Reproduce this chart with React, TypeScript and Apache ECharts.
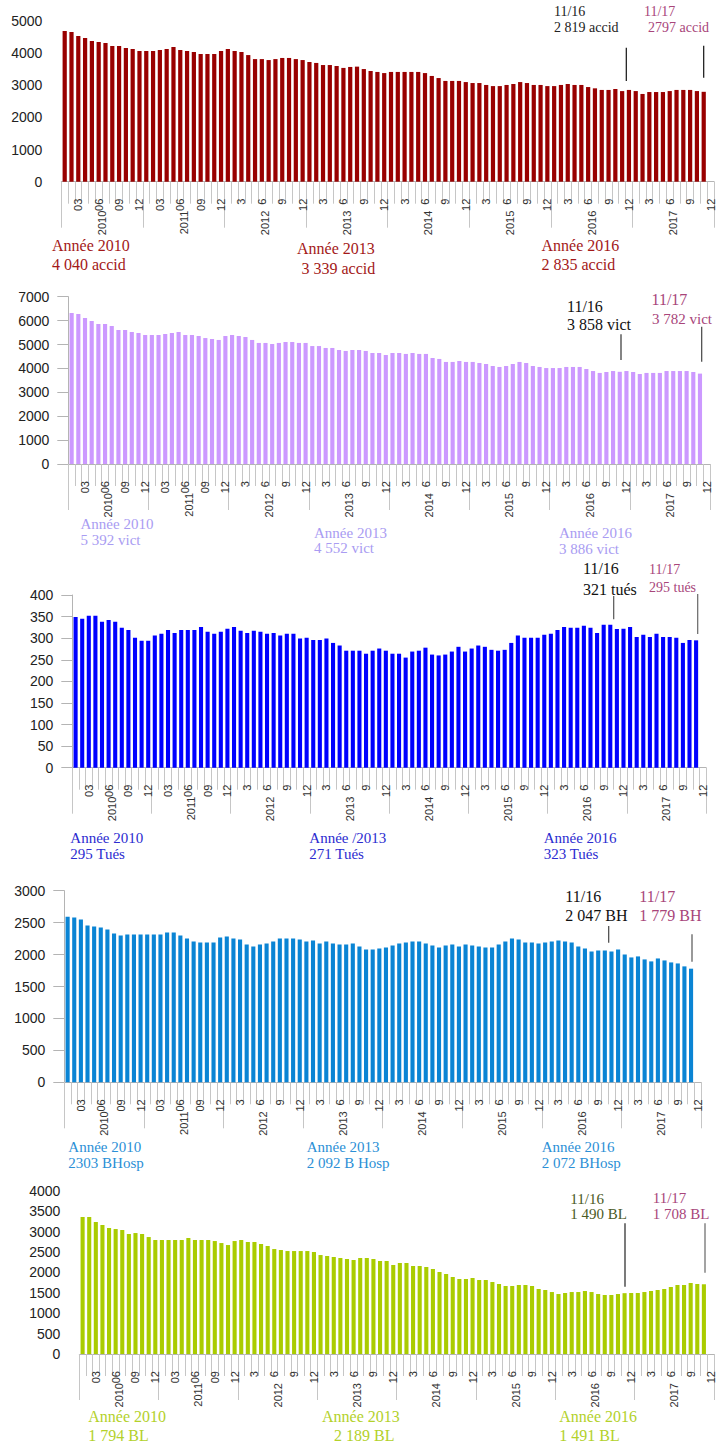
import React, { useEffect, useRef } from 'react';
import * as echarts from 'echarts';

const years = ['2010', '2011', '2012', '2013', '2014', '2015', '2016', '2017'];
const monthNumbers = [1, 2, 3, 4, 5, 6, 7, 8, 9, 10, 11, 12];

const accid = [
  4690, 4660, 4530, 4470, 4380, 4350, 4315, 4220, 4220, 4160, 4130, 4065,
  4065, 4065, 4095, 4130, 4190, 4095, 4065, 4035, 3975, 3975, 3975, 4065,
  4130, 4065, 4035, 3940, 3815, 3815, 3785, 3815, 3850, 3850, 3815, 3785,
  3725, 3695, 3630, 3630, 3600, 3540, 3570, 3580, 3505, 3445, 3415, 3380,
  3415, 3415, 3415, 3415, 3415, 3380, 3290, 3225, 3135, 3135, 3135, 3100,
  3070, 3070, 3010, 2975, 2975, 3010, 3040, 3100, 3070, 3010, 3010, 2975,
  2975, 3010, 3040, 3010, 3010, 2945, 2905, 2855, 2855, 2885, 2819, 2855,
  2820, 2730, 2790, 2790, 2790, 2820, 2855, 2855, 2855, 2820, 2797,
];

const vict = [
  6320, 6275, 6110, 5985, 5860, 5860, 5775, 5605, 5605, 5525, 5480, 5395,
  5395, 5395, 5440, 5480, 5525, 5395, 5395, 5355, 5270, 5230, 5190, 5355,
  5395, 5355, 5315, 5190, 5065, 5065, 5020, 5065, 5105, 5105, 5065, 5065,
  4935, 4935, 4855, 4855, 4770, 4730, 4770, 4770, 4730, 4645, 4645, 4560,
  4645, 4645, 4605, 4645, 4605, 4605, 4435, 4395, 4270, 4270, 4310, 4270,
  4270, 4225, 4185, 4100, 4060, 4100, 4185, 4270, 4225, 4100, 4060, 4015,
  4015, 4015, 4060, 4060, 4060, 3975, 3890, 3810, 3850, 3890, 3858, 3890,
  3850, 3765, 3810, 3810, 3810, 3890, 3890, 3890, 3890, 3850, 3782,
];

const tues = [
  349, 345, 352, 352, 338, 342, 338, 324, 319, 301, 294, 294,
  306, 310, 319, 312, 319, 319, 319, 326, 315, 310, 315, 322,
  326, 317, 312, 317, 315, 310, 312, 306, 310, 310, 299, 301,
  296, 296, 299, 289, 283, 271, 271, 271, 264, 271, 276, 271,
  264, 264, 255, 269, 271, 278, 262, 260, 262, 269, 280, 269,
  276, 283, 280, 273, 271, 273, 289, 306, 301, 301, 301, 308,
  310, 319, 326, 324, 324, 329, 324, 312, 331, 331, 321, 322,
  326, 303, 308, 303, 310, 303, 303, 301, 289, 296, 295,
];

const bhosp = [
  2594, 2579, 2548, 2454, 2439, 2423, 2392, 2329, 2298, 2314, 2314, 2314,
  2314, 2314, 2314, 2345, 2345, 2298, 2251, 2205, 2189, 2189, 2189, 2267,
  2283, 2251, 2236, 2158, 2127, 2158, 2173, 2205, 2251, 2251, 2251, 2236,
  2205, 2220, 2173, 2205, 2173, 2158, 2158, 2173, 2127, 2080, 2080, 2095,
  2111, 2142, 2173, 2189, 2205, 2205, 2173, 2142, 2111, 2142, 2158, 2127,
  2158, 2142, 2127, 2111, 2111, 2158, 2205, 2251, 2236, 2189, 2189, 2173,
  2189, 2205, 2220, 2205, 2189, 2127, 2095, 2049, 2064, 2064, 2047, 2080,
  2002, 1955, 1971, 1924, 1893, 1939, 1908, 1877, 1861, 1815, 1779,
];

const bl = [
  3355, 3355, 3233, 3159, 3086, 3061, 3037, 2939, 2963, 2939, 2865, 2792,
  2792, 2792, 2792, 2792, 2841, 2792, 2792, 2792, 2767, 2718, 2669, 2767,
  2792, 2743, 2743, 2694, 2645, 2571, 2547, 2522, 2522, 2522, 2522, 2498,
  2424, 2400, 2376, 2351, 2327, 2302, 2351, 2351, 2327, 2278, 2278, 2180,
  2229, 2229, 2155, 2155, 2131, 2082, 2008, 1959, 1886, 1837, 1837, 1861,
  1812, 1812, 1763, 1714, 1665, 1665, 1690, 1690, 1665, 1592, 1567, 1518,
  1469, 1494, 1518, 1518, 1543, 1518, 1469, 1445, 1445, 1469, 1490, 1494,
  1494, 1518, 1543, 1567, 1592, 1641, 1690, 1690, 1739, 1714, 1708,
];

const monthCats: string[] = [];
const monthLabels: string[] = [];
years.forEach((y) => {
  monthNumbers.forEach((m) => {
    monthCats.push(y + '-' + m);
    let lab = '';
    if (m % 3 === 0) lab = Number(y) < 2012 ? String(m).padStart(2, '0') : String(m);
    monthLabels.push(lab);
  });
});

const SANS = '"Liberation Sans", Arial, sans-serif';
const SERIF = '"Liberation Serif", "Times New Roman", serif';
const MAUVE = '#a8457a';

const panels = [
  { data: accid, color: '#990000', left: 61.3, top: 21, width: 654.7, height: 160.7, max: 5000, interval: 1000, yLine: false },
  { data: vict, color: '#cc99ff', left: 68.3, top: 296.7, width: 641.7, height: 167.3, max: 7000, interval: 1000, yLine: true },
  { data: tues, color: '#0000ff', left: 72.3, top: 595, width: 633.7, height: 172.7, max: 400, interval: 50, yLine: true },
  { data: bhosp, color: '#0a84d4', left: 64.3, top: 890.7, width: 636.7, height: 191.6, max: 3000, interval: 500, yLine: true },
  { data: bl, color: '#aacc00', left: 79.3, top: 1190.7, width: 635.4, height: 163.3, max: 4000, interval: 500, yLine: false },
];

function txt(x: number, y: number, text: string, fill: string, size: number) {
  return {
    type: 'text',
    x,
    y,
    silent: true,
    style: {
      text,
      fill,
      font: `${size}px ${SERIF}`,
      textVerticalAlign: 'middle',
      verticalAlign: 'middle',
      textAlign: 'left',
      align: 'left',
    },
  };
}

function vline(x: number, y1: number, y2: number, stroke: string) {
  return {
    type: 'line',
    silent: true,
    shape: { x1: x, y1, x2: x, y2 },
    style: { stroke, lineWidth: 1.2 },
  };
}

export default function App() {
  const ref = useRef<HTMLDivElement>(null);

  useEffect(() => {
    if (!ref.current) return;
    const chart = echarts.init(ref.current, undefined, { renderer: 'svg' });

    const grid: any[] = [];
    const xAxis: any[] = [];
    const yAxis: any[] = [];
    const series: any[] = [];

    panels.forEach((p, i) => {
      grid.push({ left: p.left, top: p.top, width: p.width, height: p.height, containLabel: false });
      xAxis.push({
        type: 'category',
        gridIndex: i,
        data: monthCats,
        position: 'bottom',
        boundaryGap: true,
        axisLine: { show: true, lineStyle: { color: '#b4b4b4', width: 1 } },
        axisTick: { show: true, interval: 0, length: 22, lineStyle: { color: '#c6c6c6' } },
        axisLabel: {
          interval: 0,
          rotate: 90,
          margin: 17,
          fontSize: 11,
          color: '#333',
          fontFamily: SANS,
          formatter: (_v: string, idx: number) => monthLabels[idx],
        },
        splitLine: { show: false },
      });
      xAxis.push({
        type: 'category',
        gridIndex: i,
        data: years,
        position: 'bottom',
        boundaryGap: true,
        axisLine: { show: false },
        axisTick: { show: true, interval: 0, length: 46, lineStyle: { color: '#c6c6c6' } },
        axisLabel: { interval: 0, rotate: 90, margin: 29, fontSize: 11, color: '#333', fontFamily: SANS },
        splitLine: { show: false },
      });
      yAxis.push({
        type: 'value',
        gridIndex: i,
        min: 0,
        max: p.max,
        interval: p.interval,
        axisLine: { show: p.yLine, lineStyle: { color: '#b4b4b4' } },
        axisTick: { show: p.yLine, length: 11, lineStyle: { color: '#b4b4b4' } },
        axisLabel: {
          margin: 19,
          fontSize: 14,
          color: '#222',
          fontFamily: SANS,
          formatter: (v: number) => String(v),
        },
        splitLine: { show: false },
      });
      series.push({
        type: 'bar',
        xAxisIndex: 2 * i,
        yAxisIndex: i,
        data: p.data,
        barWidth: '62%',
        itemStyle: { color: p.color },
      });
    });

    const red = '#a31818';
    const lav = '#a99cf2';
    const blue = '#2b2bd0';
    const sky = '#2b8fd6';
    const lime = '#b3d12a';
    const olive = '#4b5a25';

    const graphic: any[] = [
      // chart 1
      txt(52, 245.5, 'Année 2010', red, 16),
      txt(52, 264.5, '4 040 accid', red, 16),
      txt(297, 248.5, 'Année 2013', red, 16),
      txt(301.5, 268, '3 339 accid', red, 16),
      txt(541.5, 245.5, 'Année 2016', red, 16),
      txt(541.5, 264.5, '2 835 accid', red, 16),
      txt(554, 11, '11/16', '#222', 14),
      txt(554, 27, '2 819 accid', '#222', 14),
      txt(644, 11, '11/17', MAUVE, 14),
      txt(648, 27, '2797 accid', MAUVE, 14),
      vline(626.3, 47.7, 81, '#111'),
      vline(703.7, 45.7, 77.7, '#111'),
      // chart 2
      txt(80.5, 524, 'Année 2010', lav, 15),
      txt(80.5, 539.5, '5 392 vict', lav, 15),
      txt(314, 533, 'Année 2013', lav, 15),
      txt(314, 548, '4 552 vict', lav, 15),
      txt(559, 533, 'Année 2016', lav, 15),
      txt(559, 548.5, '3 886 vict', lav, 15),
      txt(567, 306, '11/16', '#111', 16),
      txt(567, 324.5, '3 858 vict', '#111', 16),
      txt(651.5, 299.5, '11/17', MAUVE, 16),
      txt(652, 318.5, '3 782 vict', MAUVE, 15),
      vline(621, 334.3, 360, '#333'),
      vline(701.7, 326.7, 361.7, '#444'),
      // chart 3
      txt(70.3, 838.3, 'Année 2010', blue, 15),
      txt(70.3, 854.3, '295 Tués', blue, 15),
      txt(309.3, 838.3, 'Année /2013', blue, 15),
      txt(309.3, 854.3, '271 Tués', blue, 15),
      txt(543.7, 838.3, 'Année 2016', blue, 15),
      txt(543.7, 854.3, '323 Tués', blue, 15),
      txt(583, 568, '11/16', '#111', 16),
      txt(583, 589, '321 tués', '#111', 16),
      txt(649, 569, '11/17', MAUVE, 14),
      txt(649, 587, '295 tués', MAUVE, 14),
      vline(613.7, 596, 619.3, '#555'),
      vline(697.7, 594, 634, '#666'),
      // chart 4
      txt(68.3, 1146.7, 'Année 2010', sky, 15),
      txt(68.3, 1163.3, '2303 BHosp', sky, 15),
      txt(306.7, 1146.7, 'Année 2013', sky, 15),
      txt(306.7, 1163.3, '2 092 B Hosp', sky, 15),
      txt(541.7, 1146.7, 'Année 2016', sky, 15),
      txt(541.7, 1163.3, '2 072 BHosp', sky, 15),
      txt(565.3, 896, '11/16', '#111', 16),
      txt(565.3, 915.7, '2 047 BH', '#111', 16),
      txt(639.3, 896, '11/17', MAUVE, 16),
      txt(639.3, 915.7, '1 779 BH', MAUVE, 16),
      vline(608.7, 926, 942.7, '#444'),
      vline(692, 934.3, 961.7, '#555'),
      // chart 5
      txt(88.3, 1416.5, 'Année 2010', lime, 16),
      txt(88.3, 1435.5, '1 794 BL', lime, 16),
      txt(322, 1416.5, 'Année 2013', lime, 16),
      txt(334, 1435.5, '2 189 BL', lime, 16),
      txt(559.3, 1416.5, 'Année 2016', lime, 16),
      txt(559.3, 1435.5, '1 491 BL', lime, 16),
      txt(570.3, 1199, '11/16', olive, 15),
      txt(570.3, 1214.3, '1 490 BL', olive, 15),
      txt(652.7, 1197.7, '11/17', MAUVE, 15),
      txt(652.7, 1214.3, '1 708 BL', MAUVE, 15),
      vline(625, 1223.3, 1286.7, '#222'),
      vline(705, 1223.3, 1272.7, '#666'),
    ];

    chart.setOption({
      animation: false,
      backgroundColor: '#ffffff',
      grid,
      xAxis,
      yAxis,
      series,
      graphic,
    });

    return () => {
      chart.dispose();
    };
  }, []);

  return (
    <div
      ref={ref}
      style={{ position: 'absolute', left: 0, top: 0, width: 716, height: 1445, background: '#fff' }}
    />
  );
}
